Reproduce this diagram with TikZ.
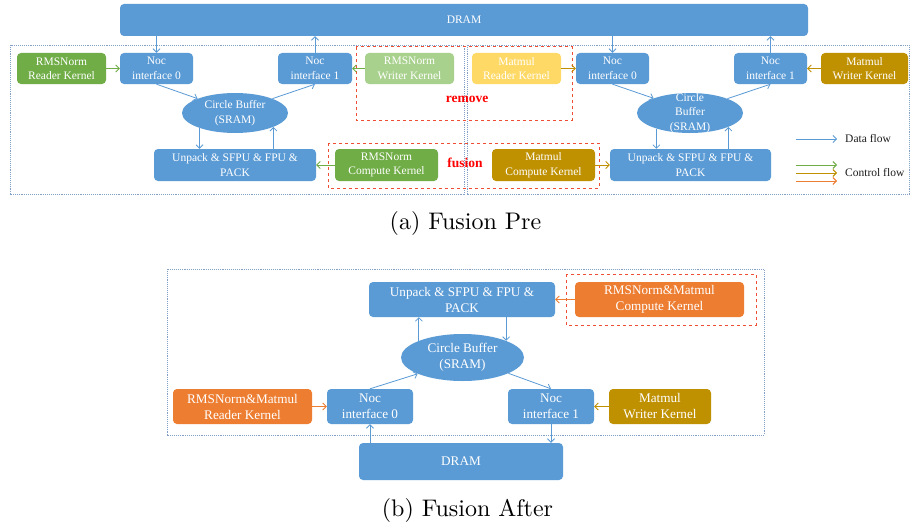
\documentclass[tikz,border=0pt]{standalone}
\usepackage{fontspec}
\newfontfamily\boxfont{Liberation Serif}
\newfontfamily\capfont{lmroman10-regular}[Extension=.otf]
\usetikzlibrary{arrows.meta,shapes.geometric}

\definecolor{unitblue}{RGB}{91,155,213}
\definecolor{kgreen}{RGB}{112,173,71}
\definecolor{klgreen}{RGB}{169,209,142}
\definecolor{kyellow}{RGB}{255,217,102}
\definecolor{kgold}{RGB}{191,144,0}
\definecolor{korange}{RGB}{237,125,49}
\definecolor{dashred}{RGB}{240,78,52}
\definecolor{coreframe}{RGB}{130,160,200}
\definecolor{legendtext}{RGB}{30,30,30}

\tikzset{
  topfont/.style={font=\boxfont\fontsize{11.5}{14.5}\selectfont},
  botfont/.style={font=\boxfont\fontsize{13.2}{16}\selectfont},
  unit/.style={rectangle,rounded corners=4pt,fill=unitblue,text=white,
    align=center,inner sep=0pt},
  kernel/.style={unit,fill=#1},
  buffer/.style={ellipse,fill=unitblue,inner sep=0pt},
  buftext/.style={text=white,align=center,inner sep=0pt},
  tip/.style={-{Straight Barb[length=3.5pt,width=7pt]}},
  data/.style={tip,draw=unitblue,line width=0.8pt},
  ctrl/.style={tip,draw=#1,line width=0.9pt},
  coreframe/.style={draw=coreframe,densely dotted,line width=0.9pt},
  cutbox/.style={draw=dashred,dashed,line width=1pt},
  cutlabel/.style={text=red,font=\boxfont\bfseries\fontsize{13.5}{16}\selectfont},
  caption/.style={font=\capfont\fontsize{24}{28}\selectfont},
}

\begin{document}
\begin{tikzpicture}[x=1pt,y=-1pt]
\useasboundingbox[fill=white] (0,0) rectangle (910,527);

% ---------------- (a) two separate cores ----------------
\draw[coreframe] (10,45) rectangle (464,194);
\draw[coreframe] (467,45) rectangle (909,194);

\node[unit,topfont,minimum width=688pt,minimum height=32pt] (dramA) at (464,20) {DRAM};

% RMSNorm core
\node[kernel=kgreen,topfont,minimum width=89pt,minimum height=31pt] (rrk) at (61.5,68.5) {RMSNorm\\Reader Kernel};
\node[unit,topfont,minimum width=73pt,minimum height=31pt] (noc0A) at (156.5,68.5) {Noc\\interface 0};
\node[unit,topfont,minimum width=74pt,minimum height=31pt] (noc1A) at (315,68.5) {Noc\\interface 1};
\node[kernel=klgreen,topfont,minimum width=89pt,minimum height=31pt] (rwk) at (409.5,68.5) {RMSNorm\\Writer Kernel};
\node[buffer,minimum width=106pt,minimum height=40pt] (cbA) at (235,113) {};
\node[buftext,topfont] (cbAtxt) at (cbA.center) {Circle Buffer\\(SRAM)};
\node[unit,topfont,minimum width=162pt,minimum height=32pt] (upA) at (235,165) {Unpack \& SFPU \& FPU \&\\PACK};
\node[kernel=kgreen,topfont,minimum width=103pt,minimum height=32pt] (rck) at (386.5,165) {RMSNorm\\Compute Kernel};

% Matmul core
\node[kernel=kyellow,topfont,minimum width=89pt,minimum height=31pt] (mrk) at (516.5,68.5) {Matmul\\Reader Kernel};
\node[unit,topfont,minimum width=73pt,minimum height=31pt] (noc0B) at (612.5,68.5) {Noc\\interface 0};
\node[unit,topfont,minimum width=73pt,minimum height=31pt] (noc1B) at (770.5,68.5) {Noc\\interface 1};
\node[kernel=kgold,topfont,minimum width=87pt,minimum height=31pt] (mwk) at (864.5,68.5) {Matmul\\Writer Kernel};
\node[buffer,minimum width=106pt,minimum height=40pt] (cbB) at (690,113) {};
\node[buftext,topfont] (cbBtxt) at (cbB.center) {Circle\\Buffer\\(SRAM)};
\node[unit,topfont,minimum width=161pt,minimum height=32pt] (upB) at (690.5,165) {Unpack \& SFPU \& FPU \&\\PACK};
\node[kernel=kgold,topfont,minimum width=103pt,minimum height=32pt] (mck) at (543.5,165) {Matmul\\Compute Kernel};

% kernels that get removed / fused
\draw[cutbox] (356,47) rectangle (572,120);
\draw[cutbox] (328,143) rectangle (599,188);
\node[cutlabel] (rmlabel) at (467,99) {remove};
\node[cutlabel] (fulabel) at (465,163) {fusion};

% data flow, RMSNorm core
\draw[data] (noc0A.north |- dramA.south) -- (noc0A.north);
\draw[data] (noc1A.north) -- (noc1A.north |- dramA.south);
\draw[data] (noc0A.south) -- (cbA.159);
\draw[data] (cbA.21) -- (noc1A.south);
\draw[data] (cbA.203) -- (cbA.203 |- upA.north);
\draw[data] (cbA.340 |- upA.north) -- (cbA.340);

% data flow, Matmul core
\draw[data] (noc0B.north |- dramA.south) -- (noc0B.north);
\draw[data] (noc1B.north) -- (noc1B.north |- dramA.south);
\draw[data] (noc0B.south) -- (cbB.158);
\draw[data] (cbB.21) -- (noc1B.south);
\draw[data] (cbB.205) -- (cbB.205 |- upB.north);
\draw[data] (cbB.340 |- upB.north) -- (cbB.340);

% control flow
\draw[ctrl=kgreen] (rrk.east) -- (noc0A.west);
\draw[ctrl=kgreen] (rwk.west) -- (noc1A.east);
\draw[ctrl=kgreen] (rck.west) -- (upA.east);
\draw[ctrl=kgold] (mrk.east) -- (noc0B.west);
\draw[ctrl=kgold] (mwk.west) -- (noc1B.east);
\draw[ctrl=kgold] (mck.east) -- (upB.west);

% legend
\coordinate (lgD0) at (796,139);  \coordinate (lgD1) at (837,139);
\coordinate (lgG0) at (796,165);  \coordinate (lgG1) at (837,165);
\coordinate (lgY0) at (796,173);  \coordinate (lgY1) at (837,173);
\coordinate (lgO0) at (796,181);  \coordinate (lgO1) at (837,181);
\draw[data] (lgD0) -- (lgD1);
\draw[ctrl=kgreen] (lgG0) -- (lgG1);
\draw[ctrl=kgold] (lgY0) -- (lgY1);
\draw[ctrl=korange] (lgO0) -- (lgO1);
\node[anchor=west,text=legendtext,topfont,inner sep=0pt] (lgData) at (845,139) {Data flow};
\node[anchor=west,text=legendtext,topfont,inner sep=0pt] (lgCtrl) at (845,173) {Control flow};

\node[caption] (capA) at (465.5,223) {(a) Fusion Pre};

% ---------------- (b) one fused core ----------------
\draw[coreframe] (167,269) rectangle (764,435);

\node[unit,botfont,minimum width=186pt,minimum height=35pt] (up) at (462,299.5) {Unpack \& SFPU \& FPU \&\\PACK};
\node[kernel=korange,botfont,minimum width=169pt,minimum height=35pt] (fck) at (659.5,299.5) {RMSNorm\&Matmul\\Compute Kernel};
\draw[cutbox] (566,274) rectangle (756,325);
\node[buffer,minimum width=123pt,minimum height=47pt] (cb) at (462.5,357.5) {};
\node[buftext,botfont] (cbtxt) at (cb.center) {Circle Buffer\\(SRAM)};
\node[kernel=korange,botfont,minimum width=139pt,minimum height=35pt] (frk) at (242.5,406.5) {RMSNorm\&Matmul\\Reader Kernel};
\node[unit,botfont,minimum width=86pt,minimum height=35pt] (noc0) at (370,406.5) {Noc\\interface 0};
\node[unit,botfont,minimum width=86pt,minimum height=35pt] (noc1) at (551,406.5) {Noc\\interface 1};
\node[kernel=kgold,botfont,minimum width=102pt,minimum height=35pt] (fwk) at (660,406.5) {Matmul\\Writer Kernel};
\node[unit,botfont,minimum width=204pt,minimum height=37pt] (dram) at (461,461.5) {DRAM};

\draw[data] (noc0.south |- dram.north) -- (noc0.south);
\draw[data] (noc1.south) -- (noc1.south |- dram.north);
\draw[data] (noc0.north) -- (cb.200);
\draw[data] (cb.341) -- (noc1.north);
\draw[data] (cb.159) -- (cb.159 |- up.south);
\draw[data] (cb.21 |- up.south) -- (cb.21);

\draw[ctrl=korange] (frk.east) -- (noc0.west);
\draw[ctrl=kgold] (fwk.west) -- (noc1.east);
\draw[ctrl=korange] (fck.west) -- (up.east);

\node[caption] (capB) at (467.5,510) {(b) Fusion After};
\end{tikzpicture}
\end{document}
